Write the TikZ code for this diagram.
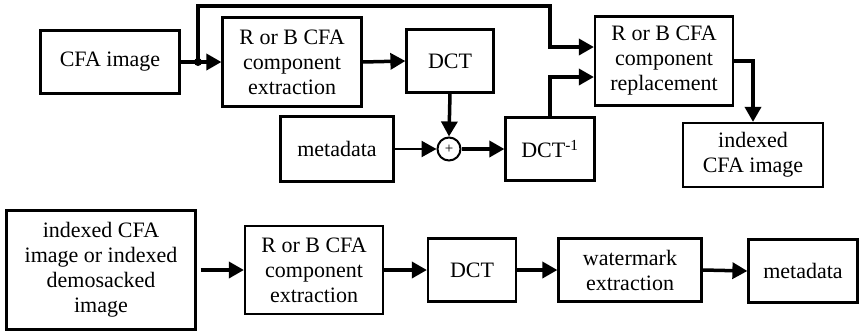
\documentclass[tikz,border=0pt]{standalone}
\usepackage{fontspec}
\setmainfont{Liberation Serif}
\usetikzlibrary{arrows.meta}
\tikzset{
  box/.style={draw, line width=2.2pt, align=center, inner sep=2pt,
    font=\rmfamily\fontsize{22}{25}\selectfont},
  flow/.style={line width=3.5pt, -{Triangle[length=15pt,width=16pt]}},
  thinflow/.style={line width=2.4pt, -{Triangle[length=15pt,width=16pt]}},
}
\begin{document}
\begin{tikzpicture}[x=1pt,y=-1pt]
\useasboundingbox (0,0) rectangle (860,330);
% embedding chain
\node[box, minimum width=139, minimum height=63] (cfa) at (110,62) {CFA image};
\node[box, minimum width=139, minimum height=89] (ext) at (292,62) {R or B CFA\\component\\extraction};
\node[box, minimum width=87, minimum height=63] (dct) at (450,61) {DCT};
\node[box, minimum width=113, minimum height=65] (meta) at (337,149) {metadata};
\node[draw, circle, line width=2pt, minimum size=23, inner sep=0pt,
  font=\rmfamily\fontsize{15}{15}\selectfont] (plus) at (449,149) {+};
\node[box, minimum width=89, minimum height=63] (idct) at (550,149) {DCT\textsuperscript{-1}};
\node[box, minimum width=138, minimum height=89] (rep) at (664,61) {R or B CFA\\component\\replacement};
\node[box, minimum width=140, minimum height=64] (out) at (753,155) {indexed\\CFA image};
\coordinate (j) at (198,62);
\coordinate (ta) at (550,6);
\coordinate (tb) at (550,47);
\coordinate (ia) at (551,77);
\draw[flow] (cfa.east) -- (ext.west);
\fill (j) circle (4);
\draw[flow] (j) |- (ta) -- (tb) -- (rep.west |- tb);
\draw[flow] (ext.east) -- (dct.west);
\draw[flow] (dct.south) -- (plus.north);
\draw[thinflow] (meta.east) -- (plus.west);
\draw[flow] (plus.east) -- (idct.west);
\draw[flow] (idct.north) |- (rep.west |- ia);
\draw[flow] (rep.east) -| (out.north);
% extraction chain
\node[box, minimum width=189, minimum height=119] (src) at (101,270) {indexed CFA\\image or indexed\\demosacked\\image};
\node[box, minimum width=138, minimum height=88] (ext2) at (314,270) {R or B CFA\\component\\extraction};
\node[box, minimum width=88, minimum height=63] (dct2) at (472,270) {DCT};
\node[box, minimum width=143, minimum height=63] (wm) at (630,270) {watermark\\extraction};
\node[box, minimum width=109, minimum height=63] (meta2) at (803,271) {metadata};
\draw[flow] ([xshift=4]src.east) -- (ext2.west);
\draw[flow] (ext2.east) -- (dct2.west);
\draw[flow] (dct2.east) -- (wm.west);
\draw[flow] (wm.east) -- (meta2.west);
\end{tikzpicture}
\end{document}
